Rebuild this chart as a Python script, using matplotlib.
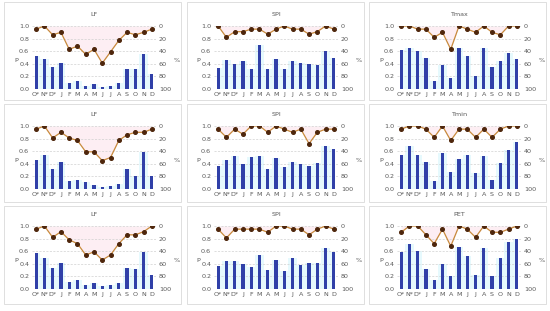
import matplotlib
matplotlib.use('Agg')
from matplotlib import pyplot as plt
from matplotlib.patches import Rectangle
import numpy as np

months = ['O*', 'N*', 'D*', 'J', 'F', 'M', 'A', 'M', 'J', 'J', 'A', 'S', 'O', 'N', 'D']
titles = ['LF', 'SPI', 'Tmax', 'LF', 'SPI', 'Tmin', 'LF', 'SPI', 'PET']

# P values (bars, left axis)
p_lf1 = [0.53, 0.47, 0.35, 0.41, 0.09, 0.12, 0.05, 0.08, 0.03, 0.05, 0.10, 0.31, 0.32, 0.56, 0.24]
p_spi1 = [0.33, 0.46, 0.40, 0.44, 0.32, 0.70, 0.32, 0.47, 0.32, 0.44, 0.42, 0.39, 0.38, 0.61, 0.49]
p_tmax = [0.625, 0.645, 0.60, 0.50, 0.125, 0.375, 0.17, 0.645, 0.53, 0.21, 0.645, 0.355, 0.45, 0.57, 0.48]
p_lf2 = [0.46, 0.54, 0.32, 0.43, 0.12, 0.15, 0.11, 0.06, 0.03, 0.04, 0.08, 0.31, 0.20, 0.58, 0.20]
p_spi2 = [0.37, 0.46, 0.53, 0.39, 0.51, 0.53, 0.31, 0.49, 0.35, 0.43, 0.40, 0.36, 0.42, 0.68, 0.64]
p_tmin = [0.54, 0.68, 0.54, 0.43, 0.125, 0.57, 0.27, 0.475, 0.54, 0.26, 0.53, 0.145, 0.41, 0.625, 0.745]
p_lf3 = [0.57, 0.49, 0.33, 0.42, 0.11, 0.15, 0.06, 0.09, 0.04, 0.06, 0.09, 0.33, 0.32, 0.59, 0.22]
p_spi3 = [0.36, 0.45, 0.44, 0.40, 0.35, 0.54, 0.30, 0.46, 0.29, 0.50, 0.385, 0.41, 0.41, 0.65, 0.58]
p_pet = [0.59, 0.71, 0.60, 0.32, 0.15, 0.39, 0.21, 0.67, 0.52, 0.22, 0.65, 0.20, 0.49, 0.74, 0.79]

# % values (line, right axis, inverted)
pct_lf1 = [5, 0, 14, 10, 37, 32, 45, 37, 59, 41, 23, 10, 14, 10, 5]
pct_spi1 = [0, 18, 9, 9, 5, 5, 13, 5, 0, 5, 5, 13, 9, 0, 5]
pct_tmax = [0, 0, 5, 5, 18, 10, 37, 0, 5, 10, 0, 10, 14, 0, 0]
pct_lf2 = [5, 0, 19, 10, 19, 23, 41, 41, 55, 50, 23, 14, 10, 10, 5]
pct_spi2 = [5, 18, 5, 13, 0, 0, 10, 0, 5, 10, 5, 28, 10, 5, 5]
pct_tmin = [5, 0, 0, 5, 18, 0, 23, 5, 5, 18, 5, 18, 5, 0, 0]
pct_lf3 = [5, 0, 18, 9, 22, 28, 46, 41, 54, 46, 28, 14, 14, 9, 0]
pct_spi3 = [5, 19, 5, 5, 5, 5, 10, 0, 0, 5, 5, 14, 5, 0, 5]
pct_pet = [10, 0, 0, 14, 28, 5, 32, 0, 5, 18, 0, 10, 10, 5, 0]

bars = [p_lf1, p_spi1, p_tmax, p_lf2, p_spi2, p_tmin, p_lf3, p_spi3, p_pet]
lines = [pct_lf1, pct_spi1, pct_tmax, pct_lf2, pct_spi2, pct_tmin, pct_lf3, pct_spi3, pct_pet]

W, H = 550, 311
fig = plt.figure(figsize=(W / 100, H / 100), dpi=100)
fig.patch.set_facecolor('white')

txt = '#595959'
fs = 4.6
plot_left = [32, 214, 397]
plot_top = [26, 126, 226]
box_left = [4, 187, 369]
box_top = [2, 104, 206]
pw, ph = 124, 63

x = np.arange(len(months))

for k in range(9):
    r, c = divmod(k, 3)
    # panel frame
    fig.patches.append(Rectangle((box_left[c] / W, 1 - (box_top[r] + 98) / H), 177 / W, 98 / H,
                                 transform=fig.transFigure, fill=False, ec='#d9d9d9', lw=0.6))
    ax = fig.add_axes([plot_left[c] / W, 1 - (plot_top[r] + ph) / H, pw / W, ph / H])
    ax.set_facecolor('none')
    ax.set_xlim(-0.5, len(months) - 0.5)
    ax.set_ylim(0, 1.0)

    # faint shading behind bars and above the line
    ax.fill_between(x, 0, bars[k], step='mid', color='#e6f9fd', zorder=0, lw=0)
    pline = 1 - np.array(lines[k]) / 100
    ax.fill_between(x, pline, 1.0, color='#fdeef3', zorder=0, lw=0)

    ax.bar(x, bars[k], width=0.38, color='#3040a8', zorder=2)
    ax.set_yticks(np.arange(0, 1.01, 0.2))
    ax.set_yticklabels([f'{v:.1f}' for v in np.arange(0, 1.01, 0.2)])
    ax.grid(axis='y', color='#d0d0d0', ls=(0, (3, 2)), lw=0.5, zorder=1)
    ax.set_xticks(x)
    ax.set_xticklabels(months)
    ax.tick_params(length=0, labelsize=fs, colors=txt, pad=2)
    for s in ax.spines.values():
        s.set_visible(False)
    ax.axhline(0, color='#d0d0d0', lw=0.5, zorder=1)
    ax.set_ylabel('P', fontsize=fs, color=txt, rotation=0, va='center', ha='center')
    ax.yaxis.set_label_coords(-0.13, 0.45)
    ax.set_title(titles[k], fontsize=fs, color=txt, pad=7)

    ax2 = ax.twinx()
    ax2.set_ylim(100, 0)
    ax2.set_yticks(range(0, 101, 20))
    ax2.plot(x, lines[k], color='#c88a3c', lw=0.9, marker='o', ms=2.6,
             mfc='#4e260c', mec='#4e260c', zorder=3)
    ax2.tick_params(length=0, labelsize=fs, colors=txt, pad=2)
    for s in ax2.spines.values():
        s.set_visible(False)
    ax2.set_ylabel('%', fontsize=fs, color=txt, rotation=0, va='center', ha='center')
    ax2.yaxis.set_label_coords(1.17, 0.45)

fig.savefig('out.png', dpi=100)
